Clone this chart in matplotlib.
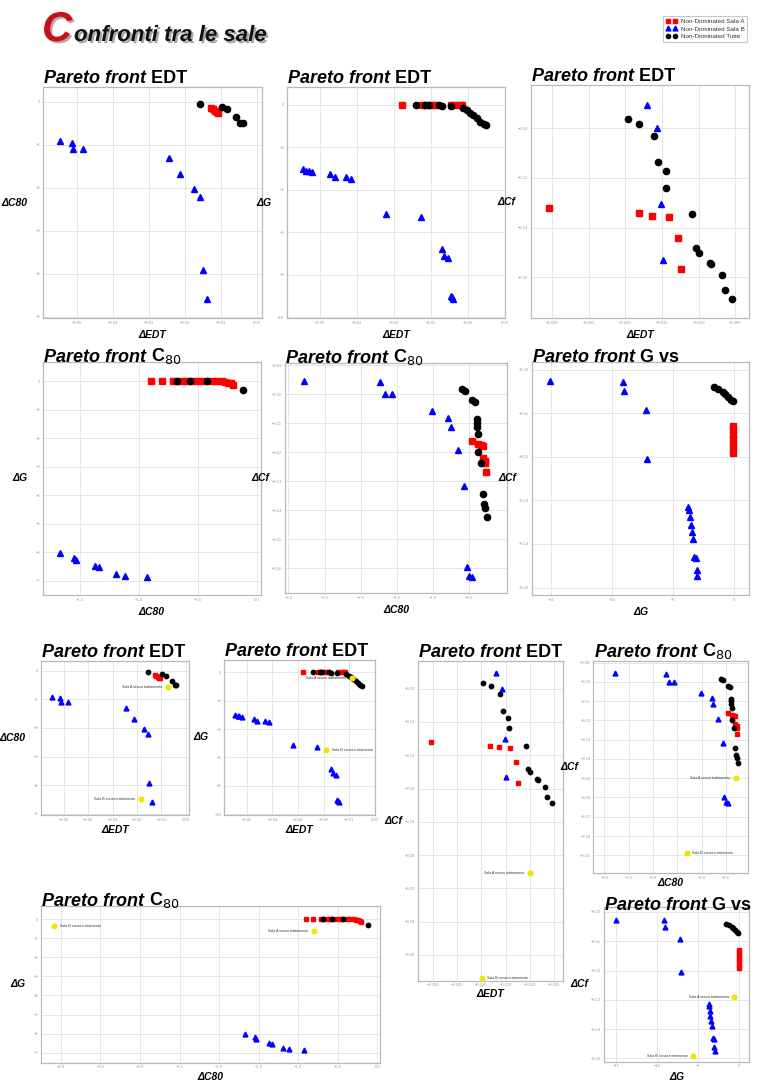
import matplotlib
matplotlib.use('Agg')
import matplotlib.pyplot as plt
from matplotlib.lines import Line2D
import matplotlib.patheffects as pe

plt.rcParams['font.family'] = ['Liberation Sans', 'DejaVu Sans']

# ---- dati: fronti di Pareto (differenze rispetto all'obiettivo) ----
# EDT vs C80
edt_c80_a_x = [-0.0128, -0.0122, -0.0116, -0.0111, -0.0106]
edt_c80_a_y = [-0.14, -0.18, -0.22, -0.25, -0.27]
edt_c80_b_x = [-0.0546, -0.0514, -0.0511, -0.0483, -0.0243, -0.0213, -0.0173, -0.0157, -0.0150, -0.0139]
edt_c80_b_y = [-0.91, -0.97, -1.11, -1.11, -1.30, -1.68, -2.02, -2.21, -3.92, -4.60]
edt_c80_t_x = [-0.0157, -0.0097, -0.0083, -0.0057, -0.0046, -0.0039]
edt_c80_t_y = [-0.06, -0.12, -0.18, -0.36, -0.49, -0.49]

# EDT vs G
edt_g_a_x = [-0.0279, -0.0223, -0.0214, -0.0196, -0.0188, -0.0145, -0.0134, -0.0121, -0.0116]
edt_g_a_y = [0.0, 0.0, 0.0, 0.0, 0.0, 0.0, 0.0, 0.0, 0.0]
edt_g_b_x = [-0.0545, -0.0536, -0.0529, -0.0520, -0.0471, -0.0460, -0.0429, -0.0415,
             -0.0320, -0.0226, -0.0170, -0.0165, -0.0154, -0.0147, -0.0143, -0.0140]
edt_g_b_y = [-3.03, -3.09, -3.11, -3.14, -3.27, -3.41, -3.41, -3.49,
             -5.15, -5.26, -6.78, -7.11, -7.22, -9.00, -9.06, -9.15]
edt_g_t_x = [-0.0241, -0.0216, -0.0205, -0.0179, -0.0170, -0.0147, -0.0112,
             -0.0103, -0.0094, -0.0085, -0.0076, -0.0067, -0.0058, -0.0052]
edt_g_t_y = [0.0, 0.0, 0.0, 0.0, -0.03, -0.03, -0.13, -0.24, -0.36, -0.47, -0.63, -0.78, -0.89, -0.94]

# EDT vs Cf
edt_cf_a_x = [-0.0304, -0.0182, -0.0163, -0.0141, -0.0128, -0.0124]
edt_cf_a_y = [-0.1322, -0.1342, -0.1352, -0.1356, -0.1440, -0.1566]
edt_cf_b_x = [-0.0170, -0.0157, -0.0151, -0.0149]
edt_cf_b_y = [-0.0906, -0.1000, -0.1305, -0.1530]
edt_cf_t_x = [-0.0196, -0.0181, -0.0161, -0.0155, -0.0145, -0.0144, -0.0109,
              -0.0104, -0.0100, -0.0085, -0.0083, -0.0068, -0.0064, -0.0055]
edt_cf_t_y = [-0.0964, -0.0983, -0.1030, -0.1137, -0.1174, -0.1239, -0.1345,
              -0.1481, -0.1501, -0.1541, -0.1548, -0.1591, -0.1651, -0.1687]

# C80 vs G
c80_g_a_x = [-0.901, -0.808, -0.715, -0.681, -0.624, -0.596, -0.540, -0.489,
             -0.441, -0.384, -0.342, -0.299, -0.271, -0.243, -0.223, -0.201]
c80_g_a_y = [0, 0, 0, 0, 0, 0, 0, 0, 0, 0, 0, 0, -0.02, -0.05, -0.08, -0.12]
c80_g_b_x = [-1.669, -1.548, -1.537, -1.373, -1.336, -1.195, -1.119, -0.929]
c80_g_b_y = [-6.02, -6.19, -6.27, -6.48, -6.53, -6.76, -6.83, -6.86]
c80_g_t_x = [-0.681, -0.568, -0.427, -0.121]
c80_g_t_y = [0.0, 0.0, 0.0, -0.32]

# C80 vs Cf
c80_cf_a_x = [-0.465, -0.373, -0.341, -0.304, -0.304, -0.281, -0.281, -0.267]
c80_cf_a_y = [-0.1161, -0.1172, -0.1176, -0.1179, -0.1220, -0.1230, -0.1237, -0.1268]
c80_cf_b_x = [-2.783, -1.733, -1.664, -1.571, -1.009, -0.797, -0.756, -0.659,
              -0.567, -0.535, -0.502, -0.465]
c80_cf_b_y = [-0.0955, -0.0957, -0.1001, -0.1001, -0.1059, -0.1084, -0.1115, -0.1193,
              -0.1316, -0.1595, -0.1626, -0.1630]
c80_cf_t_x = [-0.604, -0.558, -0.465, -0.419, -0.396, -0.387, -0.387, -0.373,
              -0.373, -0.341, -0.304, -0.295, -0.281, -0.258]
c80_cf_t_y = [-0.0984, -0.0990, -0.1021, -0.1026, -0.1087, -0.1101, -0.1113, -0.1138,
              -0.1199, -0.1239, -0.1345, -0.1379, -0.1394, -0.1423]

# G vs Cf
g_cf_a_x = [-0.05, -0.05, -0.05, -0.05, -0.05, -0.05, -0.05]
g_cf_a_y = [-0.1129, -0.1139, -0.1150, -0.1160, -0.1169, -0.1181, -0.1191]
g_cf_b_x = [-15.05, -9.10, -8.99, -7.21, -7.08, -3.72, -3.63, -3.58, -3.50,
            -3.39, -3.31, -3.22, -3.09, -3.03, -2.98]
g_cf_b_y = [-0.1027, -0.1028, -0.1050, -0.1092, -0.1204, -0.1315, -0.1322, -0.1339,
            -0.1356, -0.1372, -0.1389, -0.1431, -0.1433, -0.1460, -0.1473]
g_cf_t_x = [-1.61, -1.26, -0.90, -0.71, -0.44, -0.25, -0.08]
g_cf_t_y = [-0.1040, -0.1044, -0.1051, -0.1055, -0.1063, -0.1069, -0.1072]

# sale senza trattamento (punti gialli), uno per grafico in basso
senza_a_x = [-0.0072, -0.0091, -0.0100, -0.293, -0.796, -0.57]
senza_a_y = [-0.556, -0.38, -0.2108, -0.1497, -0.598, -0.1291]
senza_b_x = [-0.0185, -0.0191, -0.0199, -1.308, -4.083, -5.57]
senza_b_y = [-4.49, -5.48, -0.2739, -0.1890, -0.336, -0.1491]

ticks_edt = [-0.05, -0.04, -0.03, -0.02, -0.01, 0.00]
ticks_edt_fine = [-0.030, -0.025, -0.020, -0.015, -0.010, -0.005]
ticks_c80 = [0, -1, -2, -3, -4, -5]
ticks_g = [0, -2, -4, -6, -8, -10]
ticks_g2 = [0, -1, -2, -3, -4, -5, -6, -7]
ticks_cf = [-0.10, -0.12, -0.14, -0.16]
ticks_c80_x = [-1.5, -1.0, -0.5, 0.0]
ticks_c80_x2 = [-3.0, -2.5, -2.0, -1.5, -1.0, -0.5]
ticks_cf2 = [-0.09, -0.10, -0.11, -0.12, -0.13, -0.14, -0.15, -0.16]
ticks_gx = [-15, -10, -5, 0]
ticks_cf3 = [-0.10, -0.11, -0.12, -0.13, -0.14, -0.15]
ticks_cf_long = [-0.10, -0.12, -0.14, -0.16, -0.18, -0.20, -0.22, -0.24, -0.26]
ticks_cf_mid = [-0.09, -0.10, -0.11, -0.12, -0.13, -0.14, -0.15, -0.16, -0.17, -0.18, -0.19]
ticks_c80_long = [-4.0, -3.5, -3.0, -2.5, -2.0, -1.5, -1.0, -0.5, 0.0]

W, H = 757, 1081
fig = plt.figure(figsize=(W / 100, H / 100), dpi=100)


def box(x0, y0, x1, y1):
    return [x0 / W, 1 - y1 / H, (x1 - x0) / W, (y1 - y0) / H]


def pannello(rect, a, b, t, xlim, ylim, xt, yt, param, xlab, ylab, ms,
             xlab_off=17, yellow=None, title_off=0):
    ax = fig.add_axes(box(*rect))
    ax.plot(a[0], a[1], 's', color='#ff0000', ms=ms, mec='#ff0000', zorder=3)
    ax.plot(t[0], t[1], 'o', color='black', ms=ms * 0.9, zorder=4)
    ax.plot(b[0], b[1], '^', color='#0000ff', ms=ms, zorder=5)
    if yellow is not None:
        (xa, ya, side_a), (xb, yb, side_b) = yellow
        for x, y, nome, side in [(xa, ya, 'Sala A senza trattamento', side_a),
                                 (xb, yb, 'Sala B senza trattamento', side_b)]:
            ax.plot([x], [y], 'o', color='#f2e400', ms=ms * 0.95, zorder=6)
            dx = -4 if side == 'l' else 4
            ax.annotate(nome, (x, y), xytext=(dx, 0), textcoords='offset points',
                        ha='right' if side == 'l' else 'left', va='center',
                        fontsize=2.6, color='#333333')
    ax.set_xlim(*xlim)
    ax.set_ylim(*ylim)
    ax.set_xticks(xt)
    ax.set_yticks(yt)
    ax.grid(color='#e2e2e2', lw=0.6)
    ax.set_axisbelow(True)
    for s in ax.spines.values():
        s.set_color('#b8b8b8')
        s.set_linewidth(0.9)
    ax.tick_params(labelsize=3, colors='#999999', length=0, pad=2)
    t1 = ax.annotate('Pareto front', (0, 1), xycoords='axes fraction',
                     xytext=(1, title_off), textcoords='offset points', ha='left', va='bottom',
                     fontsize=13, fontweight='bold', fontstyle='italic')
    ax.annotate(' ' + param, (1, 0), xycoords=t1, ha='left', va='bottom',
                fontsize=13, fontweight='bold')
    ax.annotate(xlab, (0.5, 0), xycoords='axes fraction', xytext=(0, -xlab_off * 0.72),
                textcoords='offset points', ha='center', va='center',
                fontsize=7.5, fontweight='bold', fontstyle='italic')
    ax.annotate(ylab, (0, 0.5), xycoords='axes fraction', xytext=(-11, 0),
                textcoords='offset points', ha='right', va='center',
                fontsize=7.5, fontweight='bold', fontstyle='italic')
    return ax


d_edt_c80 = ((edt_c80_a_x, edt_c80_a_y), (edt_c80_b_x, edt_c80_b_y), (edt_c80_t_x, edt_c80_t_y))
d_edt_g = ((edt_g_a_x, edt_g_a_y), (edt_g_b_x, edt_g_b_y), (edt_g_t_x, edt_g_t_y))
d_edt_cf = ((edt_cf_a_x, edt_cf_a_y), (edt_cf_b_x, edt_cf_b_y), (edt_cf_t_x, edt_cf_t_y))
d_c80_g = ((c80_g_a_x, c80_g_a_y), (c80_g_b_x, c80_g_b_y), (c80_g_t_x, c80_g_t_y))
d_c80_cf = ((c80_cf_a_x, c80_cf_a_y), (c80_cf_b_x, c80_cf_b_y), (c80_cf_t_x, c80_cf_t_y))
d_g_cf = ((g_cf_a_x, g_cf_a_y), (g_cf_b_x, g_cf_b_y), (g_cf_t_x, g_cf_t_y))

C80 = 'C$_{80}$'

# prima riga
pannello((42.7, 86.7, 261.7, 318.3), *d_edt_c80, (-0.0594, 0.0014), (-5.04, 0.35),
         ticks_edt, ticks_c80, 'EDT', 'ΔEDT', 'ΔC80', 5)
pannello((286.7, 86.7, 505, 318.3), *d_edt_g, (-0.0589, -0.0004), (-10.05, 0.86),
         ticks_edt, ticks_g, 'EDT', 'ΔEDT', 'ΔG', 5)
pannello((530.7, 85, 749.3, 318.3), *d_edt_cf, (-0.0329, -0.0031), (-0.1765, -0.0826),
         ticks_edt_fine, ticks_cf, 'EDT', 'ΔEDT', 'ΔCf', 5)
# seconda riga
pannello((42.7, 361.7, 260.7, 595), *d_c80_g, (-1.816, 0.031), (-7.50, 0.68),
         ticks_c80_x, ticks_g2, C80, 'ΔC80', 'ΔG', 5, title_off=-3)
pannello((285, 363.3, 506.7, 593.3), *d_c80_cf, (-3.046, 0.018), (-0.1687, -0.0894),
         ticks_c80_x2, ticks_cf2, C80, 'ΔC80', 'ΔCf', 5, title_off=-3)
pannello((531.7, 361.7, 749.3, 595), *d_g_cf, (-16.56, 1.28), (-0.1517, -0.0982),
         ticks_gx, ticks_cf3, 'G vs', 'ΔG', 'ΔCf', 5, title_off=-3)

# confronto con le sale senza trattamento
def gialli(i, sa, sb):
    return ((senza_a_x[i], senza_a_y[i], sa), (senza_b_x[i], senza_b_y[i], sb))

pannello((40.7, 660.7, 189.3, 815), *d_edt_c80, (-0.0594, 0.0014), (-5.04, 0.35),
         ticks_edt, ticks_c80, 'EDT', 'ΔEDT', 'ΔC80', 3.5, 15, gialli(0, 'l', 'l'))
pannello((224, 660, 375, 815), *d_edt_g, (-0.0589, -0.0004), (-10.05, 0.86),
         ticks_edt, ticks_g, 'EDT', 'ΔEDT', 'ΔG', 3.5, 15, gialli(1, 'l', 'r'))
pannello((418, 660.7, 563, 980.7), *d_edt_cf, (-0.0330, -0.0032), (-0.2755, -0.0832),
         ticks_edt_fine, ticks_cf_long, 'EDT', 'ΔEDT', 'ΔCf', 3.5, 13, gialli(2, 'l', 'r'))
pannello((593.3, 660.7, 748.3, 873), *d_c80_cf, (-3.229, -0.040), (-0.1992, -0.0890),
         ticks_c80_x2, ticks_cf_mid, C80, 'ΔC80', 'ΔCf', 3.5, 10, gialli(3, 'l', 'r'))
pannello((40.7, 906, 380, 1062.7), *d_c80_g, (-4.255, 0.035), (-7.53, 0.70),
         ticks_c80_long, ticks_g2, C80, 'ΔC80', 'ΔG', 3.5, 14, gialli(4, 'l', 'r'), title_off=-3)
pannello((604, 906.7, 749.3, 1061.7), *d_g_cf, (-16.48, 1.26), (-0.1511, -0.0982),
         ticks_gx, ticks_cf3, 'G vs', 'ΔG', 'ΔCf', 3.5, 15, gialli(5, 'l', 'l'), title_off=-5)

# titolo
ombra = [pe.withSimplePatchShadow(offset=(1.5, -1.5), alpha=0.35)]
fig.text(42 / W, 1 - 41 / H, 'C', color='#c8101a', fontsize=30, fontweight='bold',
         fontstyle='italic', va='baseline', path_effects=ombra)
fig.text(74 / W, 1 - 41 / H, 'onfronti tra le sale', color='#111111', fontsize=16,
         fontweight='bold', fontstyle='italic', va='baseline', path_effects=ombra)

# legenda
handles = [Line2D([], [], ls='none', marker='s', color='#ff0000', ms=3.5),
           Line2D([], [], ls='none', marker='^', color='#0000ff', ms=3.5),
           Line2D([], [], ls='none', marker='o', color='black', ms=3)]
leg = fig.legend(handles, ['Non-Dominated Sala A', 'Non-Dominated Sala B', 'Non-Dominated Tutte'],
                 loc='upper right', bbox_to_anchor=(750 / W, 1 - 13 / H), numpoints=2,
                 fontsize=4.5, frameon=True, fancybox=False, handlelength=1.8,
                 borderpad=0.4, labelspacing=0.35, handletextpad=0.6)
leg.get_frame().set_edgecolor('#bbbbbb')
leg.get_frame().set_linewidth(0.8)
for txt in leg.get_texts():
    txt.set_color('#333333')

fig.savefig('out.png', dpi=100)
